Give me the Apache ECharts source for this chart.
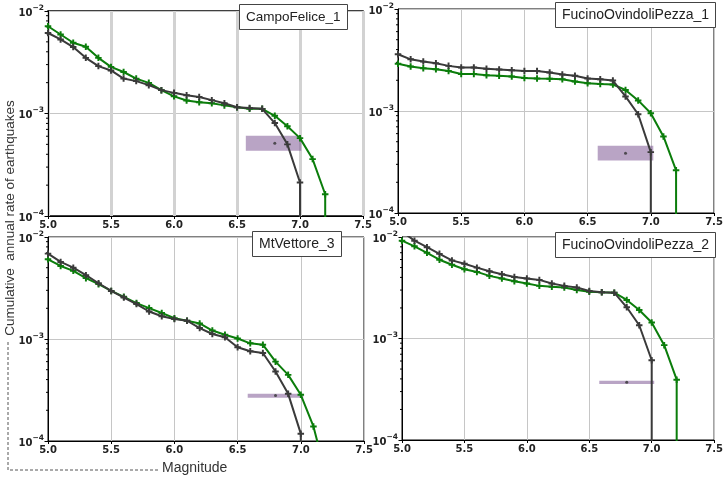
<!DOCTYPE html>
<html>
<head>
<meta charset="utf-8">
<script src="https://cdn.jsdelivr.net/npm/echarts@6/dist/echarts.min.js"></script>
<style>
html, body {margin:0; padding:0; background:#fff;}
#chart {width:726px; height:477px;}
</style>
</head>
<body>
<div id="chart"></div>
<script>
// magnitude bins (x axis)
var mags = [5.0, 5.1, 5.2, 5.3, 5.4, 5.5, 5.6, 5.7, 5.8, 5.9, 6.0, 6.1, 6.2, 6.3, 6.4, 6.5, 6.6, 6.7, 6.8, 6.9, 7.0, 7.1, 7.2];
var names = ['CampoFelice_1', 'FucinoOvindoliPezza_1', 'MtVettore_3', 'FucinoOvindoliPezza_2'];
var yTicks = [1e-4, 1e-3, 1e-2];
var xTicks = [5.0, 5.5, 6.0, 6.5, 7.0, 7.5];
// minor ticks of the log axis
var minorVals = [2e-4, 3e-4, 4e-4, 5e-4, 6e-4, 7e-4, 8e-4, 9e-4, 2e-3, 3e-3, 4e-3, 5e-3, 6e-3, 7e-3, 8e-3, 9e-3];
// rate falls to zero after the last bin
var dropTo = 1e-6;

// CampoFelice_1
var green1 = [7.1e-3, 5.9e-3, 4.9e-3, 4.48e-3, 3.49e-3, 2.85e-3, 2.54e-3, 2.19e-3, 1.99e-3, 1.69e-3, 1.47e-3, 1.34e-3, 1.29e-3, 1.26e-3, 1.20e-3, 1.15e-3, 1.11e-3, 1.11e-3, 9.5e-4, 7.5e-4, 5.75e-4, 3.59e-4, 1.63e-4];
var black1 = [6.1e-3, 5.28e-3, 4.45e-3, 3.49e-3, 2.9e-3, 2.63e-3, 2.19e-3, 2.07e-3, 1.89e-3, 1.69e-3, 1.59e-3, 1.51e-3, 1.45e-3, 1.35e-3, 1.26e-3, 1.15e-3, 1.13e-3, 1.11e-3, 8.07e-4, 5.0e-4, 2.12e-4];
var box1 = [6.57, 7.01, 4.33e-4, 6.07e-4];
var dot1 = [6.8, 5.14e-4];

// FucinoOvindoliPezza_1
var green2 = [2.9e-3, 2.73e-3, 2.63e-3, 2.57e-3, 2.47e-3, 2.31e-3, 2.31e-3, 2.24e-3, 2.21e-3, 2.18e-3, 2.11e-3, 2.08e-3, 2.07e-3, 2.05e-3, 1.95e-3, 1.87e-3, 1.84e-3, 1.82e-3, 1.61e-3, 1.27e-3, 9.5e-4, 5.63e-4, 2.62e-4];
var black2 = [3.6e-3, 3.21e-3, 3.05e-3, 2.94e-3, 2.77e-3, 2.67e-3, 2.67e-3, 2.59e-3, 2.55e-3, 2.51e-3, 2.47e-3, 2.47e-3, 2.38e-3, 2.28e-3, 2.22e-3, 2.08e-3, 2.05e-3, 1.99e-3, 1.39e-3, 9.3e-4, 3.95e-4];
var box2 = [6.58, 7.02, 3.27e-4, 4.56e-4];
var dot2 = [6.8, 3.86e-4];

// MtVettore_3
var green3 = [6.05e-3, 5.2e-3, 4.66e-3, 3.95e-3, 3.45e-3, 2.96e-3, 2.59e-3, 2.25e-3, 2.01e-3, 1.8e-3, 1.6e-3, 1.51e-3, 1.42e-3, 1.21e-3, 1.10e-3, 1.01e-3, 9.07e-4, 8.8e-4, 6.0e-4, 4.45e-4, 2.84e-4, 1.39e-4, 4.6e-5];
var black3 = [6.87e-3, 5.7e-3, 5.0e-3, 4.22e-3, 3.52e-3, 2.96e-3, 2.55e-3, 2.2e-3, 1.86e-3, 1.67e-3, 1.57e-3, 1.51e-3, 1.28e-3, 1.12e-3, 1.04e-3, 8.3e-4, 7.58e-4, 7.3e-4, 4.8e-4, 2.9e-4, 1.18e-4];
var box3 = [6.58, 7.02, 2.65e-4, 2.9e-4];
var dot3 = [6.8, 2.79e-4];

// FucinoOvindoliPezza_2
var green4 = [9.2e-3, 8.1e-3, 6.98e-3, 5.97e-3, 5.33e-3, 4.81e-3, 4.53e-3, 4.14e-3, 3.9e-3, 3.67e-3, 3.48e-3, 3.3e-3, 3.23e-3, 3.18e-3, 3.0e-3, 2.89e-3, 2.85e-3, 2.83e-3, 2.4e-3, 1.91e-3, 1.44e-3, 8.6e-4, 3.93e-4];
var black4 = [1.13e-2, 9.2e-3, 7.93e-3, 6.82e-3, 5.88e-3, 5.45e-3, 4.99e-3, 4.59e-3, 4.29e-3, 4.04e-3, 3.9e-3, 3.78e-3, 3.48e-3, 3.3e-3, 3.18e-3, 2.94e-3, 2.85e-3, 2.83e-3, 2.03e-3, 1.35e-3, 6.1e-4];
var box4 = [6.58, 7.02, 3.56e-4, 3.84e-4];
var dot4 = [6.8, 3.7e-4];

var panels = [
	{green: green1, black: black1, box: box1, dot: dot1, grid: {left: 48, top: 11, width: 315, height: 205}, title: [239, 4], first: true},
	{green: green2, black: black2, box: box2, dot: dot2, grid: {left: 398, top: 9, width: 316, height: 204}, title: [555, 2]},
	{green: green3, black: black3, box: box3, dot: dot3, grid: {left: 48, top: 237, width: 316, height: 204}, title: [252, 231]},
	{green: green4, black: black4, box: box4, dot: dot4, grid: {left: 402, top: 237, width: 315, height: 203}, title: [555, 232]}
];

var GREEN = '#0b7d0b';
var DARK = '#3a3a3a';
var PLUS = 'path://M3.5,0H6.5V3.5H10V6.5H6.5V10H3.5V6.5H0V3.5H3.5Z';
var tickFont = {fontFamily: 'DejaVu Sans', fontSize: 10, fontWeight: 'bold', color: '#222'};

// "10" with the exponent as raised small text
function supLabel(v) {
	var e = Math.round(Math.log(v) / Math.LN10);
	return '{b|10}{s|\u2212' + Math.abs(e) + '}';
}
var supRich = {
	b: {fontFamily: 'DejaVu Sans', fontSize: 10, fontWeight: 'bold', color: '#222', lineHeight: 14, verticalAlign: 'bottom'},
	s: {fontFamily: 'DejaVu Sans', fontSize: 7.5, fontWeight: 'bold', color: '#222', lineHeight: 14, verticalAlign: 'top', padding: [0, 0, 6, 0]}
};
// line data: value per bin, then vertical drop at the last bin
function lineData(vals) {
	var out = [];
	vals.forEach(function(v, i) { out.push([mags[i], v]) });
	out.push({value: [mags[vals.length - 1], dropTo], symbol: 'none'});
	return out;
}

var grids = [], xAxes = [], yAxes = [], series = [], titles = [];
panels.forEach(function(p, k) {
	grids.push({left: p.grid.left, top: p.grid.top, width: p.grid.width, height: p.grid.height,
		show: true, borderColor: '#000', borderWidth: p.first ? 1.5 : 1, backgroundColor: 'transparent'});
	xAxes.push({
		type: 'value', gridIndex: k, min: xTicks[0], max: xTicks[xTicks.length - 1], interval: 0.5,
		axisLine: {show: true, lineStyle: {color: '#000'}},
		axisTick: {show: true, length: 3, lineStyle: {color: '#000'}},
		axisLabel: Object.assign({margin: 4, formatter: function(v) { return v.toFixed(1) }}, tickFont),
		splitLine: {show: true, lineStyle: {color: p.first ? '#d2d2d2' : '#c6c6c6', width: p.first ? 3 : 1}}
	});
	yAxes.push({
		type: 'log', logBase: 10, gridIndex: k, min: yTicks[0], max: yTicks[yTicks.length - 1],
		axisLine: {show: true, lineStyle: {color: '#000'}},
		axisTick: {show: true, length: 3.5, lineStyle: {color: '#000'}},
		axisLabel: {margin: 4, formatter: supLabel, rich: supRich},
		splitLine: {show: true, lineStyle: {color: '#c6c6c6', width: 1}}
	});
	// purple band
	series.push({
		type: 'custom', xAxisIndex: k, yAxisIndex: k, z: 1, silent: true,
		encode: {x: [0, 1], y: [2, 3]},
		data: [p.box],
		renderItem: function(params, api) {
			var a = api.coord([api.value(0), api.value(3)]);
			var b = api.coord([api.value(1), api.value(2)]);
			return {type: 'rect', shape: {x: a[0], y: a[1], width: b[0] - a[0], height: b[1] - a[1]},
				style: {fill: 'rgba(128,90,150,0.55)'}};
		}
	});
	// minor ticks on the left axis
	series.push({
		type: 'custom', xAxisIndex: k, yAxisIndex: k, z: 3, silent: true, clip: false,
		data: minorVals.map(function(v) { return [xTicks[0], v] }),
		renderItem: function(params, api) {
			var c = api.coord([api.value(0), api.value(1)]);
			return {type: 'line', shape: {x1: c[0], y1: c[1], x2: c[0] - 2, y2: c[1]},
				style: {stroke: '#000', lineWidth: 1}};
		}
	});
	series.push({
		type: 'line', xAxisIndex: k, yAxisIndex: k, z: 4, data: lineData(p.green),
		symbol: PLUS, symbolSize: 6.5, showSymbol: true,
		lineStyle: {color: GREEN, width: 2}, itemStyle: {color: GREEN}
	});
	series.push({
		type: 'line', xAxisIndex: k, yAxisIndex: k, z: 5, data: lineData(p.black),
		symbol: PLUS, symbolSize: 6.5, showSymbol: true,
		lineStyle: {color: DARK, width: 2}, itemStyle: {color: DARK}
	});
	series.push({
		type: 'scatter', xAxisIndex: k, yAxisIndex: k, z: 6, data: [p.dot],
		symbol: 'circle', symbolSize: 3, itemStyle: {color: '#333'}
	});
	titles.push({
		text: names[k], left: p.title[0], top: p.title[1], padding: [5, 7, 5, 7],
		borderWidth: 1, borderColor: '#444', backgroundColor: '#fff',
		textStyle: {fontFamily: 'Liberation Sans', fontSize: k == 0 ? 13.5 : 14, fontWeight: 'normal', color: '#222', lineHeight: 16}
	});
});

var myChart = echarts.init(document.getElementById('chart'), null, {renderer: 'canvas'});
myChart.setOption({
	backgroundColor: '#fff',
	animation: false,
	title: titles,
	grid: grids,
	xAxis: xAxes,
	yAxis: yAxes,
	series: series,
	graphic: [
		{type: 'text', x: 10, y: 218, rotation: Math.PI / 2, z: 10,
			style: {text: 'Cumulative  annual rate of earthquakes', font: '13.5px "Liberation Sans"', fill: '#333',
				textAlign: 'center', textVerticalAlign: 'middle'}},
		{type: 'polyline', z: 10, shape: {points: [[8, 342], [8, 470], [160, 470]]},
			style: {stroke: '#555', lineWidth: 1, lineDash: [3, 2], fill: null}},
		{type: 'text', x: 162, y: 468, z: 10,
			style: {text: 'Magnitude', font: '14px "Liberation Sans"', fill: '#333',
				textAlign: 'left', textVerticalAlign: 'middle'}}
	]
});
</script>
</body>
</html>
